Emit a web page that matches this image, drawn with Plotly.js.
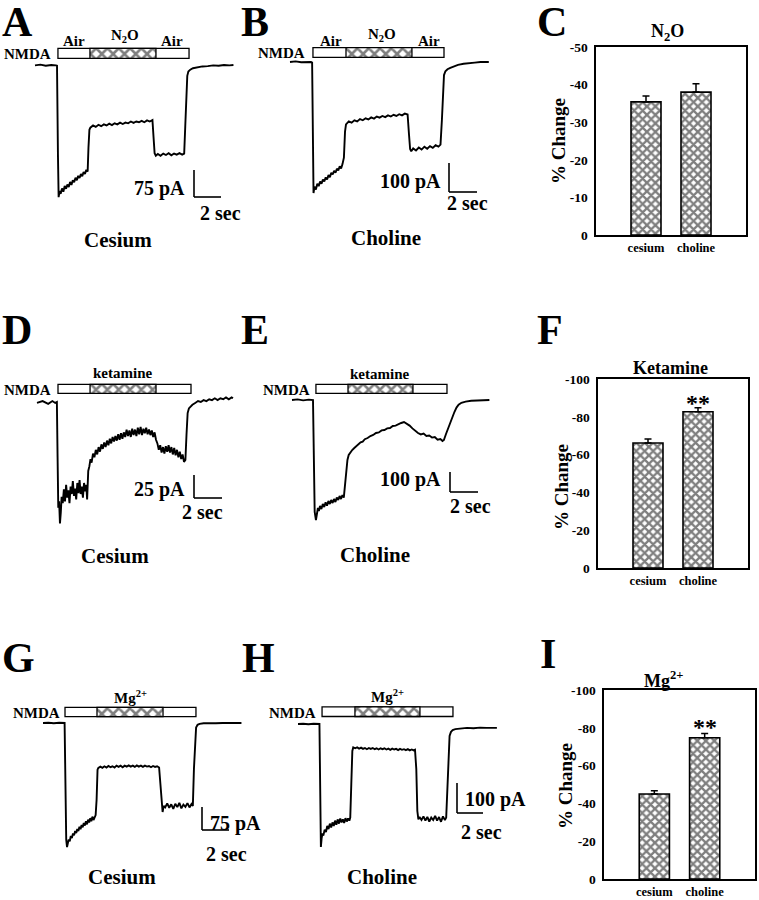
<!DOCTYPE html>
<html>
<head>
<meta charset="utf-8">
<script src="https://cdn.plot.ly/plotly-3.0.1.min.js"></script>
<style>html,body{margin:0;padding:0;background:#fff;}#chart{width:759px;height:900px;}</style>
</head>
<body>
<div id="chart"></div>
<script>
// ---------------- DATA ----------------
// Whole-cell current traces: [time (s), current (pA)]
const traceA = [[0,-1],[0.4,1],[0.8,-2],[1.2,0],[1.55,-1],[1.63,-2],[1.7,-250],[1.75,-367],[1.82,-350],[1.9,-358],[2.0,-343],[2.1,-352],[2.2,-336],[2.3,-344],[2.4,-332],[2.5,-339],[2.6,-325],[2.7,-333],[2.8,-320],[2.9,-326],[3.0,-313],[3.1,-320],[3.2,-308],[3.3,-314],[3.4,-303],[3.5,-309],[3.6,-297],[3.7,-303],[3.8,-291],[3.9,-296],[3.96,-230],[4.03,-180],[4.1,-174],[4.3,-168],[4.5,-172],[4.7,-166],[4.9,-170],[5.1,-165],[5.3,-168],[5.5,-163],[5.7,-167],[5.9,-162],[6.1,-165],[6.3,-160],[6.5,-164],[6.7,-160],[6.9,-162],[7.1,-157],[7.3,-161],[7.5,-157],[7.7,-159],[7.9,-155],[8.1,-159],[8.3,-154],[8.5,-157],[8.7,-153],[8.78,-200],[8.86,-245],[8.95,-252],[9.1,-247],[9.3,-252],[9.5,-246],[9.7,-250],[9.9,-245],[10.1,-251],[10.3,-246],[10.5,-249],[10.7,-245],[10.9,-249],[11.05,-246],[11.13,-170],[11.2,-80],[11.28,-30],[11.36,-18],[11.5,-13],[11.7,-9],[12.0,-6],[12.4,-4],[12.8,-3],[13.2,-1],[13.6,-2],[14.0,0],[14.4,-1],[14.7,0]];
const traceB = [[0,0],[0.4,2],[0.8,-1],[1.2,1],[1.5,0],[1.58,-2],[1.63,-300],[1.68,-452],[1.75,-430],[1.85,-440],[1.95,-420],[2.05,-428],[2.15,-412],[2.25,-420],[2.35,-405],[2.45,-412],[2.55,-398],[2.65,-405],[2.75,-390],[2.85,-397],[2.95,-382],[3.05,-388],[3.15,-375],[3.25,-382],[3.35,-368],[3.45,-374],[3.55,-360],[3.65,-367],[3.75,-352],[3.85,-330],[3.93,-240],[4.0,-215],[4.2,-205],[4.4,-209],[4.6,-201],[4.8,-205],[5.0,-197],[5.2,-201],[5.4,-194],[5.6,-198],[5.8,-191],[6.0,-195],[6.2,-188],[6.4,-192],[6.6,-186],[6.8,-190],[7.0,-184],[7.2,-188],[7.4,-182],[7.6,-186],[7.8,-180],[8.0,-184],[8.2,-178],[8.4,-181],[8.5,-250],[8.58,-300],[8.66,-308],[8.8,-298],[9.0,-305],[9.2,-295],[9.4,-302],[9.6,-292],[9.8,-299],[10.0,-290],[10.2,-296],[10.4,-287],[10.6,-292],[10.75,-285],[10.85,-200],[10.93,-80],[11.0,-45],[11.1,-32],[11.25,-25],[11.45,-20],[11.7,-15],[12.0,-10],[12.4,-6],[12.8,-3],[13.2,-2],[13.6,0],[14.0,-1],[14.2,0]];
const traceD = [[0,-1],[0.4,1],[0.8,-2],[1.1,1],[1.3,-1],[1.42,0],[1.47,-60],[1.52,-115],[1.58,-108],[1.64,-132],[1.7,-120],[1.76,-103],[1.84,-110],[1.92,-95],[2.0,-108],[2.08,-90],[2.16,-104],[2.24,-96],[2.32,-110],[2.4,-92],[2.48,-100],[2.56,-86],[2.64,-102],[2.72,-94],[2.8,-106],[2.88,-88],[2.96,-99],[3.04,-85],[3.12,-100],[3.2,-92],[3.28,-104],[3.36,-88],[3.44,-97],[3.52,-90],[3.58,-106],[3.66,-75],[3.74,-70],[3.82,-62],[3.9,-66],[4.0,-56],[4.1,-60],[4.2,-52],[4.3,-57],[4.4,-49],[4.5,-54],[4.6,-46],[4.7,-51],[4.8,-44],[4.9,-49],[5.0,-42],[5.1,-47],[5.2,-40],[5.3,-45],[5.4,-38],[5.5,-43],[5.6,-37],[5.7,-42],[5.8,-35],[5.9,-41],[6.0,-34],[6.1,-40],[6.2,-33],[6.3,-38],[6.4,-30],[6.5,-37],[6.6,-31],[6.7,-38],[6.8,-29],[6.9,-36],[7.0,-30],[7.1,-37],[7.2,-28],[7.3,-35],[7.4,-27],[7.5,-36],[7.6,-29],[7.7,-34],[7.8,-28],[7.9,-35],[8.0,-30],[8.1,-36],[8.2,-31],[8.3,-38],[8.4,-33],[8.5,-41],[8.6,-45],[8.7,-52],[8.8,-47],[8.9,-55],[9.0,-49],[9.1,-56],[9.2,-48],[9.3,-54],[9.4,-47],[9.5,-55],[9.6,-49],[9.7,-57],[9.8,-50],[9.9,-58],[10.0,-52],[10.1,-60],[10.2,-54],[10.3,-62],[10.4,-57],[10.5,-65],[10.6,-63],[10.68,-35],[10.76,-12],[10.85,-7],[10.95,-5],[11.1,-3],[11.3,-1],[11.5,1],[11.7,0],[11.9,2],[12.1,1],[12.3,3],[12.5,2],[12.7,4],[12.9,2],[13.1,4],[13.3,3],[13.5,5],[13.7,3],[13.9,5],[14.0,4]];
const traceE = [[0,0],[0.4,3],[0.8,-2],[1.2,2],[1.5,0],[1.56,-300],[1.62,-560],[1.71,-600],[1.78,-560],[1.85,-540],[1.92,-555],[2.0,-530],[2.1,-545],[2.2,-520],[2.3,-535],[2.4,-512],[2.5,-528],[2.6,-505],[2.7,-520],[2.8,-500],[2.9,-515],[3.0,-495],[3.1,-510],[3.2,-488],[3.3,-500],[3.4,-480],[3.5,-495],[3.6,-475],[3.7,-488],[3.8,-420],[3.88,-330],[3.96,-300],[4.05,-275],[4.15,-262],[4.3,-250],[4.45,-240],[4.6,-230],[4.75,-222],[4.9,-212],[5.05,-208],[5.2,-196],[5.4,-190],[5.6,-180],[5.8,-175],[6.0,-165],[6.2,-162],[6.4,-152],[6.6,-150],[6.8,-142],[7.0,-140],[7.2,-130],[7.4,-128],[7.6,-120],[7.8,-115],[8.0,-110],[8.2,-118],[8.4,-128],[8.6,-142],[8.8,-155],[9.0,-165],[9.2,-172],[9.4,-168],[9.6,-180],[9.8,-178],[10.0,-188],[10.2,-185],[10.4,-198],[10.6,-195],[10.75,-205],[10.85,-200],[11.0,-170],[11.15,-140],[11.3,-115],[11.45,-85],[11.6,-60],[11.75,-38],[11.9,-24],[12.1,-14],[12.4,-8],[12.8,-4],[13.2,-2],[13.6,-1],[14.1,0]];
const traceG = [[0,0],[0.4,1],[0.8,-1],[1.2,1],[1.6,0],[1.66,-200],[1.72,-380],[1.78,-404],[1.84,-390],[1.9,-380],[1.98,-385],[2.06,-368],[2.14,-375],[2.22,-360],[2.3,-366],[2.38,-352],[2.46,-358],[2.54,-345],[2.62,-352],[2.7,-338],[2.78,-346],[2.86,-332],[2.94,-340],[3.02,-326],[3.1,-334],[3.18,-320],[3.26,-330],[3.34,-315],[3.42,-324],[3.5,-310],[3.58,-320],[3.66,-305],[3.74,-316],[3.82,-306],[3.9,-300],[3.97,-250],[4.04,-152],[4.1,-146],[4.25,-142],[4.4,-146],[4.55,-141],[4.7,-145],[4.85,-140],[5.0,-144],[5.15,-141],[5.3,-145],[5.45,-139],[5.6,-143],[5.75,-139],[5.9,-144],[6.05,-139],[6.2,-142],[6.35,-138],[6.5,-142],[6.65,-139],[6.8,-143],[6.95,-138],[7.1,-142],[7.25,-139],[7.4,-143],[7.55,-139],[7.7,-142],[7.85,-140],[8.0,-144],[8.15,-140],[8.3,-143],[8.45,-141],[8.6,-145],[8.7,-200],[8.78,-262],[8.86,-290],[8.94,-270],[9.05,-275],[9.2,-262],[9.35,-276],[9.5,-265],[9.65,-280],[9.8,-263],[9.95,-274],[10.1,-260],[10.25,-278],[10.4,-266],[10.55,-273],[10.7,-261],[10.85,-275],[11.0,-264],[11.1,-270],[11.18,-150],[11.26,-50],[11.34,-15],[11.45,-6],[11.6,-3],[11.9,-1],[12.3,0],[12.8,-1],[13.3,0],[13.8,1],[14.3,0],[14.7,0]];
const traceH = [[0,0],[0.4,1],[0.8,-1],[1.2,1],[1.65,0],[1.7,-250],[1.76,-410],[1.82,-380],[1.88,-365],[1.95,-372],[2.05,-352],[2.15,-360],[2.25,-340],[2.35,-350],[2.45,-332],[2.55,-345],[2.65,-328],[2.75,-340],[2.85,-322],[2.95,-336],[3.05,-318],[3.15,-332],[3.25,-315],[3.35,-328],[3.45,-318],[3.55,-330],[3.65,-314],[3.75,-325],[3.85,-315],[3.95,-322],[4.02,-312],[4.1,-200],[4.18,-90],[4.25,-78],[4.4,-81],[4.55,-78],[4.7,-82],[4.85,-79],[5.0,-83],[5.15,-80],[5.3,-84],[5.45,-80],[5.6,-83],[5.75,-80],[5.9,-84],[6.05,-81],[6.2,-85],[6.35,-81],[6.5,-84],[6.65,-81],[6.8,-85],[6.95,-82],[7.1,-86],[7.25,-82],[7.4,-85],[7.55,-83],[7.7,-87],[7.85,-83],[8.0,-86],[8.15,-84],[8.3,-87],[8.45,-84],[8.6,-88],[8.75,-85],[8.9,-88],[9.0,-86],[9.1,-150],[9.18,-290],[9.26,-318],[9.35,-310],[9.5,-320],[9.65,-308],[9.8,-322],[9.95,-310],[10.1,-325],[10.25,-312],[10.4,-320],[10.55,-306],[10.7,-322],[10.85,-310],[11.0,-326],[11.15,-308],[11.3,-320],[11.4,-312],[11.5,-200],[11.58,-70],[11.66,-40],[11.76,-27],[11.9,-20],[12.1,-17],[12.5,-15],[13.0,-13],[13.5,-14],[14.0,-12],[14.5,-13],[15.0,-12],[15.3,-13]];

// Application timing (s), panels A, B, D, E, G, H
const panelLetters = ['A','B','D','E','G','H'];
const nmdaStart = [1.70, 1.64, 1.50, 1.71, 1.63, 1.85];
const nmdaEnd   = [11.41, 11.00, 11.00, 11.07, 11.33, 11.92];
const drugStart = [4.07, 4.00, 3.79, 4.00, 4.00, 4.38];
const drugEnd   = [8.96, 8.71, 8.50, 8.64, 8.89, 9.38];
const drugLabel = ['N<sub>2</sub>O','N<sub>2</sub>O','ketamine','ketamine','Mg<sup>2+</sup>','Mg<sup>2+</sup>'];
const cationLabel = ['Cesium','Choline','Cesium','Choline','Cesium','Choline'];
const scaleCurrent = [75, 100, 25, 100, 75, 100];   // pA
const scaleTime = [2, 2, 2, 2, 2, 2];                // s

// Bar charts (% change of NMDA current)
const groups = ['cesium','choline'];
const n2oChange = [-35.4, -38.0];
const n2oSem    = [1.6, 2.2];
const ketChange = [-66.1, -82.7];
const ketSem    = [2.2, 2.1];
const mgChange  = [-45.0, -74.7];
const mgSem     = [1.7, 2.3];
const n2oTicks  = [0, -10, -20, -30, -40, -50];
const n2oTickText = ['0','-10','-20','-30','-40','-50'];
const bigTicks  = [0, -20, -40, -60, -80, -100];
const bigTickText = ['0','-20','-40','-60','-80','-100'];

// ---------------- LAYOUT HELPERS ----------------
const W = 759, H = 900;
const SERIF = 'Liberation Serif, Times New Roman, serif';
const fx = x => x / W, fy = y => 1 - y / H;

// pixel frames for the trace panels (layout only)
const frames = [
  {n:1, box:[0,250,20,260],   ox:35,  oy:65,  sx:13.5, sy:0.36,  stimY:53.3, stimH:10, corner:[194,197]},
  {n:2, box:[250,500,20,260], ox:290, oy:62,  sx:14,   sy:0.29,  stimY:52.5, stimH:9.6, corner:[449,192]},
  {n:4, box:[0,250,350,580],  ox:37,  oy:402, sx:14,   sy:0.92,  stimY:388.8, stimH:9, corner:[194,498]},
  {n:5, box:[250,500,350,580],ox:292, oy:400, sx:14,   sy:0.2,   stimY:388.8, stimH:9, corner:[450,492]},
  {n:7, box:[0,250,680,900],  ox:43,  oy:723, sx:13.5, sy:0.307, stimY:712, stimH:9.4, corner:[202,830]},
  {n:8, box:[250,520,680,900],ox:298, oy:724, sx:13,   sy:0.3,   stimY:711.7, stimH:9.6, corner:[457,813]}
];
const traces = [traceA, traceB, traceD, traceE, traceG, traceH];

const data = [];
const layout = {
  width: W, height: H, margin:{l:0,r:0,t:0,b:0},
  paper_bgcolor:'white', plot_bgcolor:'rgba(0,0,0,0)',
  showlegend:false, barmode:'overlay',
  font:{family:SERIF, color:'black'},
  shapes:[], annotations:[]
};
const axName = (c, n) => c + 'axis' + (n === 1 ? '' : n);
const ref = (c, n) => c + (n === 1 ? '' : n);

frames.forEach((f, k) => {
  const [x0,x1,y0,y1] = f.box;
  layout[axName('x', f.n)] = {domain:[fx(x0), fx(x1)], range:[(x0-f.ox)/f.sx, (x1-f.ox)/f.sx], visible:false, anchor:ref('y',f.n), fixedrange:true};
  layout[axName('y', f.n)] = {domain:[fy(y1), fy(y0)], range:[(f.oy-y1)/f.sy, (f.oy-y0)/f.sy], visible:false, anchor:ref('x',f.n), fixedrange:true};
  const xr = ref('x', f.n), yr = ref('y', f.n);
  const stimC = (f.oy - f.stimY)/f.sy, stimW = f.stimH/f.sy;
  // NMDA application bar
  data.push({type:'bar', orientation:'h', xaxis:xr, yaxis:yr,
    y:[stimC], x:[nmdaEnd[k]-nmdaStart[k]], base:[nmdaStart[k]], width:[stimW],
    marker:{color:'white', line:{color:'black', width:1.3}}, hoverinfo:'skip'});
  // drug application (hatched)
  data.push({type:'bar', orientation:'h', xaxis:xr, yaxis:yr,
    y:[stimC], x:[drugEnd[k]-drugStart[k]], base:[drugStart[k]], width:[stimW],
    marker:{color:'white', line:{color:'black', width:1.3},
      pattern:{shape:'x', fgcolor:'black', bgcolor:'white', size:8, solidity:0.55, fillmode:'overlay'}},
    hoverinfo:'skip'});
  // current trace
  data.push({type:'scatter', mode:'lines', xaxis:xr, yaxis:yr,
    x: traces[k].map(p => p[0]), y: traces[k].map(p => p[1]),
    line:{color:'black', width:1.9}, hoverinfo:'skip'});
  // scale bars
  const tc = (f.corner[0]-f.ox)/f.sx, ic = (f.oy-f.corner[1])/f.sy;
  layout.shapes.push({type:'line', xref:xr, yref:yr, x0:tc, x1:tc, y0:ic, y1:ic+scaleCurrent[k], line:{color:'black', width:1.6}});
  layout.shapes.push({type:'line', xref:xr, yref:yr, x0:tc, x1:tc+scaleTime[k], y0:ic, y1:ic, line:{color:'black', width:1.6}});
});

function ann(text, x, y, size, xa, extra) {
  layout.annotations.push(Object.assign({
    text: text, xref:'paper', yref:'paper', x:fx(x), y:fy(y),
    xanchor: xa || 'center', yanchor:'middle', showarrow:false,
    font:{family:SERIF, size:size, color:'black', weight:'bold'}
  }, extra || {}));
}

// panel letters
[['A',17,22],['B',255,22],['C',552,22],['D',17,330],['E',255,330],['F',550,330],['G',18,658],['H',258,658],['I',548,654]]
  .forEach(l => ann(l[0], l[1], l[2], 42));

// NMDA labels
[[53,54],[307,53],[53,390],[312,390],[62,713],[318,713]].forEach(p => ann('NMDA', p[0], p[1], 15, 'right'));
// drug labels
ann('Air', 74, 41, 15); ann(drugLabel[0], 125, 36, 15); ann('Air', 172, 41, 15);
ann('Air', 331, 41, 15); ann(drugLabel[1], 382, 35, 15); ann('Air', 429, 41, 15);
ann(drugLabel[2], 123, 373, 15); ann(drugLabel[3], 380, 374, 15);
ann(drugLabel[4], 130, 697, 15); ann(drugLabel[5], 387, 696, 15);

// scale bar labels
const scaleTxt = scaleCurrent.map(v => v + ' pA');
ann(scaleTxt[0], 187, 188, 20, 'right'); ann(scaleTime[0] + ' sec', 198, 213, 20, 'left');
ann(scaleTxt[1], 443, 182, 20, 'right'); ann(scaleTime[1] + ' sec', 445, 203, 20, 'left');
ann(scaleTxt[2], 187, 490, 20, 'right'); ann(scaleTime[2] + ' sec', 180, 512, 20, 'left');
ann(scaleTxt[3], 443, 479, 20, 'right'); ann(scaleTime[3] + ' sec', 448, 506, 20, 'left');
ann(scaleTxt[4], 208, 823, 20, 'left'); ann(scaleTime[4] + ' sec', 204, 854, 20, 'left');
ann(scaleTxt[5], 463, 799, 20, 'left'); ann(scaleTime[5] + ' sec', 459, 832, 20, 'left');

// cation labels
[[118,240],[386,238],[115,556],[375,555],[122,877],[382,877]].forEach((p,k) => ann(cationLabel[k], p[0], p[1], 21));

// ---------------- BAR PANELS ----------------
const barPanels = [
  {n:3, box:[596,746,47,235], vals:n2oChange, sem:n2oSem, ticks:n2oTicks, tt:n2oTickText, range:[0,-50],
   title:'N<sub>2</sub>O', tpos:[667,33], ypos:[558,141], star:null},
  {n:6, box:[598,748,379,568], vals:ketChange, sem:ketSem, ticks:bigTicks, tt:bigTickText, range:[0,-100],
   title:'Ketamine', tpos:[670,368], ypos:[561,487], star:[698,403]},
  {n:9, box:[604,755,690,879], vals:mgChange, sem:mgSem, ticks:bigTicks, tt:bigTickText, range:[0,-100],
   title:'Mg<sup>2+</sup>', tpos:[663,679], ypos:[565,786], star:[705,727]}
];
barPanels.forEach(b => {
  const [x0,x1,y0,y1] = b.box;
  const xr = ref('x', b.n), yr = ref('y', b.n);
  layout[axName('x', b.n)] = {domain:[fx(x0), fx(x1)], type:'category', range:[-1, 2], anchor:yr,
    showline:true, mirror:true, linecolor:'black', linewidth:1.6, ticks:'', showgrid:false, zeroline:false,
    tickfont:{family:SERIF, size:12.5, color:'black', weight:'bold'}, fixedrange:true};
  layout[axName('y', b.n)] = {domain:[fy(y1), fy(y0)], range:b.range, anchor:xr,
    showline:true, mirror:true, linecolor:'black', linewidth:1.6, ticks:'', showgrid:false, zeroline:false,
    tickvals:b.ticks, ticktext:b.tt, ticklabelstandoff:4,
    tickfont:{family:SERIF, size:13.5, color:'black', weight:'bold'}, fixedrange:true};
  data.push({type:'bar', xaxis:xr, yaxis:yr, x:groups, y:b.vals, width:0.6,
    marker:{color:'white', line:{color:'black', width:1.6},
      pattern:{shape:'x', fgcolor:'black', bgcolor:'white', size:6, solidity:0.62, fillmode:'overlay'}},
    error_y:{type:'data', symmetric:false, array:[0,0], arrayminus:b.sem, color:'black', thickness:1.5, width:3.5},
    hoverinfo:'skip'});
  ann(b.title, b.tpos[0], b.tpos[1], 18);
  ann('% Change', b.ypos[0], b.ypos[1], 19, 'center', {textangle:-90});
  if (b.star) ann('**', b.star[0], b.star[1], 24);
});

Plotly.newPlot('chart', data, layout, {staticPlot:true, displayModeBar:false});
</script>
</body>
</html>
